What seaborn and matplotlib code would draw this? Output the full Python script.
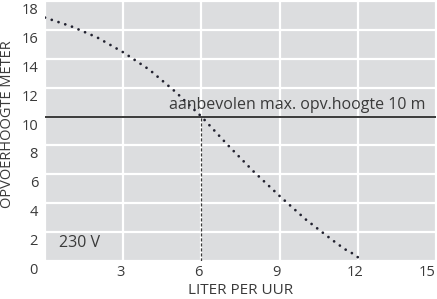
import matplotlib
matplotlib.use("Agg")
import matplotlib.pyplot as plt
import matplotlib.transforms as mtransforms
import seaborn as sns
import pandas as pd

# data
flow = [0, 1, 2, 3, 4, 5, 6, 7, 8, 9, 10, 11, 11.5, 11.8, 12.05]
head = [16.85, 16.25, 15.48, 14.45, 13.25, 11.72, 10.0, 8.05, 6.2, 4.5, 2.88, 1.48, 0.82, 0.52, 0.2]
x_ticks = [0, 3, 6, 9, 12, 15]
x_tick_labels = ["", "3", "6", "9", "12", "15"]
y_ticks = [0, 2, 4, 6, 8, 10, 12, 14, 16, 18]
y_tick_labels = ["0", "2", "4", "6", "8", "10", "12", "14", "16", "18"]
recommended_head = 10
recommended_flow = 6
annotation = "aanbevolen max. opv.hoogte 10 m"
voltage_label = "230 V"
x_label = "LITER PER UUR"
y_label = "OPVOERHOOGTE METER"

sns.set_theme(style="darkgrid")
plt.rcParams["font.family"] = ["Open Sans", "DejaVu Sans"]
TXT = "#3a3a3a"

df = pd.DataFrame({"flow": flow, "head": head})

fig = plt.figure(figsize=(4.37, 2.99), dpi=100)
ax = fig.add_axes([45 / 437, 1 - 261 / 299, (436 - 45) / 437, (261 - 1) / 299])
ax.set_facecolor("#dcdddf")
ax.grid(True, color="white", linewidth=1.6)
for s in ax.spines.values():
    s.set_visible(False)

sns.lineplot(data=df, x="flow", y="head", ax=ax, color="#222230",
             linewidth=2.0, linestyle=(0, (0.01, 2.55)), dash_capstyle="round",
             sort=False)

ax.axhline(recommended_head, color="#3a3a3a", linewidth=1.4, zorder=3)
ax.plot([recommended_flow, recommended_flow], [0, recommended_head],
        color="#3a3a3a", linewidth=0.9, linestyle=(0, (2.5, 1.5)), zorder=3)

ax.text(4.77, 10.5, annotation, fontsize=11.5, color=TXT, ha="left", va="baseline")
ax.text(0.54, 1.24, voltage_label, fontsize=11.5, color=TXT, ha="left", va="center")

ax.set_xlim(0, 15)
ax.set_ylim(0, 18)
ax.set_xticks(x_ticks)
ax.set_xticklabels(x_tick_labels)
ax.set_yticks(y_ticks)
ax.set_yticklabels(y_tick_labels)
ax.tick_params(axis="both", length=0, labelsize=10.5, labelcolor=TXT)
ax.tick_params(axis="y", pad=5)
ax.tick_params(axis="x", pad=3)

ydy = mtransforms.ScaledTranslation(0, -7.5 / 100, fig.dpi_scale_trans)
for lab in ax.get_yticklabels():
    lab.set_transform(lab.get_transform() + ydy)
xdx = mtransforms.ScaledTranslation(-3 / 100, 0, fig.dpi_scale_trans)
xlabs = ax.get_xticklabels()
for lab in xlabs[:-1]:
    lab.set_transform(lab.get_transform() + xdx)
xlabs[-1].set_horizontalalignment("right")

ax.set_xlabel(x_label, fontsize=11, color=TXT)
ax.xaxis.set_label_coords((240.5 - 45) / 391, (261 - 294.5) / 260)
ax.xaxis.label.set_verticalalignment("baseline")
ax.set_ylabel(y_label, fontsize=10.5, color=TXT)
ax.yaxis.set_label_coords((8 - 45) / 391, (261 - 124) / 260)
ax.yaxis.label.set_verticalalignment("center")

fig.savefig("out.png", dpi=100)
